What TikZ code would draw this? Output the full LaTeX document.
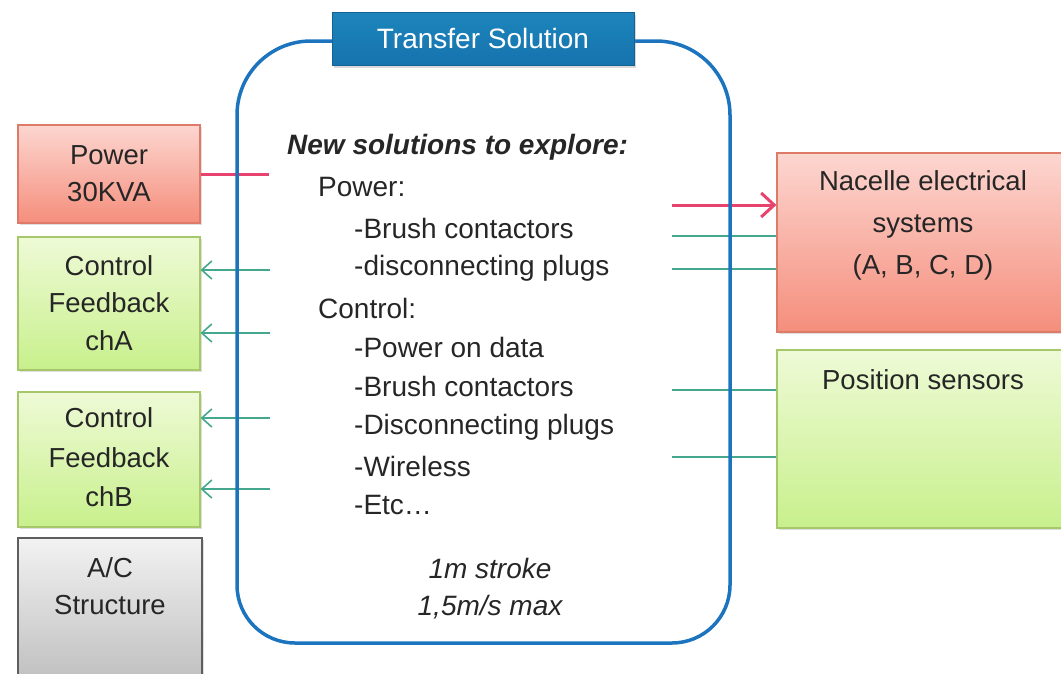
\documentclass[tikz,border=0pt]{standalone}
\usepackage{fontspec}
\setmainfont{Liberation Sans}
\usetikzlibrary{arrows.meta,shadows}

\definecolor{txtgray}{HTML}{262626}
\definecolor{redtop}{HTML}{FCD6D0}
\definecolor{redbot}{HTML}{F58E7C}
\definecolor{redline}{HTML}{DE7A68}
\definecolor{grntop}{HTML}{EEFAD6}
\definecolor{grnbot}{HTML}{C8F08C}
\definecolor{grnline}{HTML}{A6C86A}
\definecolor{gratop}{HTML}{F2F2F2}
\definecolor{grabot}{HTML}{BDBDBD}
\definecolor{graline}{HTML}{5E5E5E}
\definecolor{frame}{HTML}{1C74BE}
\definecolor{headtop}{HTML}{1D85BC}
\definecolor{headbot}{HTML}{1673AE}
\definecolor{pwrline}{HTML}{E8436E}
\definecolor{ctlline}{HTML}{45A88E}

\tikzset{
  px/.style={x=1pt,y=-1pt},
  boxbase/.style={rectangle,line width=1.2pt,inner sep=0pt,
    drop shadow={opacity=0.25,shadow xshift=1.5pt,shadow yshift=-2pt}},
  redbox/.style={boxbase,draw=redline,top color=redtop,bottom color=redbot},
  grnbox/.style={boxbase,draw=grnline,top color=grntop,bottom color=grnbot},
  grabox/.style={boxbase,draw=graline,top color=gratop,bottom color=grabot},
  boxtxt/.style={text=txtgray,align=center,inner sep=0pt,
    font=\fontsize{27.5}{37.5}\selectfont},
  body/.style={text=black!85,anchor=west,inner sep=0pt,
    font=\fontsize{28}{32}\selectfont},
  pwr/.style={draw=pwrline,line width=3pt},
  ctl/.style={draw=ctlline,line width=1.6pt},
  ctlarrow/.style={ctl,-{Straight Barb[length=10pt,width=18pt,line width=1.6pt]}},
  pwrarrow/.style={pwr,-{Straight Barb[length=13pt,width=24pt,line width=3pt]}},
  frameline/.style={draw=frame,line width=3.5pt},
}

\begin{document}
\begin{tikzpicture}[px]
\useasboundingbox (0,0) rectangle (1061,673);

% left column
\node[redbox,minimum width=182pt,minimum height=98pt] (power) at (109,174) {};
\node[boxtxt] (powertxt) at (109,173.5) {Power\\30KVA};

\node[grnbox,minimum width=182pt,minimum height=133pt] (chA) at (109,303.5) {};
\node[boxtxt] (chAtxt) at (109,303) {Control\\Feedback\\chA};

\node[grnbox,minimum width=182pt,minimum height=135pt] (chB) at (109,459.5) {};
\node[boxtxt,font=\fontsize{27.5}{39.5}\selectfont] (chBtxt) at (109,457.5) {Control\\Feedback\\chB};

\node[grabox,minimum width=184pt,minimum height=150pt] (ac) at (110,613) {};
\node[boxtxt] (actxt) at (110,586) {A/C\\Structure};

% right column
\node[redbox,minimum width=292pt,minimum height=179pt] (nacelle) at (923,242.5) {};
\node[boxtxt,font=\fontsize{27.5}{42}\selectfont] (nacelletxt) at (923,225)
  {Nacelle electrical\\systems\\(A, B, C, D)};

\node[grnbox,minimum width=292pt,minimum height=178pt] (sensors) at (923,439) {};
\node[boxtxt] (sensorstxt) at (923,380) {Position sensors};

% connectors
\coordinate (pwA) at (269,174);
\draw[pwr] (power.east) -- (pwA);
\coordinate (pwB) at (672,205);
\draw[pwrarrow] (pwB) -- (pwB -| nacelle.west);

\coordinate (nA) at (672,236);
\coordinate (nB) at (672,269);
\draw[ctl] (nA) -- (nA -| nacelle.west);
\draw[ctl] (nB) -- (nB -| nacelle.west);
\coordinate (sA) at (672,390);
\coordinate (sB) at (672,457);
\draw[ctl] (sA) -- (sA -| sensors.west);
\draw[ctl] (sB) -- (sB -| sensors.west);

\coordinate (fA1) at (270,270);
\coordinate (fA2) at (270,333);
\coordinate (fB1) at (270,418);
\coordinate (fB2) at (270,489);
\draw[ctlarrow] (fA1) -- (fA1 -| chA.east);
\draw[ctlarrow] (fA2) -- (fA2 -| chA.east);
\draw[ctlarrow] (fB1) -- (fB1 -| chB.east);
\draw[ctlarrow] (fB2) -- (fB2 -| chB.east);

% transfer solution frame: wider curves on top, tighter at the bottom
\draw[frameline] (483,41) [rounded corners=74pt] -- (730,41) -- (730,340)
  [rounded corners=58pt] -- (730,643) -- (237,643) -- (237,340)
  [rounded corners=74pt] -- (237,41) -- cycle;
\node[rectangle,draw=headbot!85!black,line width=0.8pt,
  top color=headtop,bottom color=headbot,
  minimum width=302pt,minimum height=53pt,inner sep=0pt,
  drop shadow={opacity=0.3,shadow xshift=1.5pt,shadow yshift=-2.5pt},
  text=white,font=\fontsize{28}{30}\selectfont] (head) at (483,38.5) {Transfer Solution};

% frame contents
\node[body,font=\fontsize{28}{32}\bfseries\itshape\selectfont] (intro) at (287,147) {New solutions to explore:};
\node[body] (l1) at (318,187) {Power:};
\node[body] (l2) at (354,228) {-Brush contactors};
\node[body] (l3) at (354,268) {-disconnecting plugs};
\node[body] (l4) at (318,308) {Control:};
\node[body] (l5) at (354,347) {-Power on data};
\node[body] (l6) at (354,386) {-Brush contactors};
\node[body] (l7) at (354,427) {-Disconnecting plugs};
\node[body] (l8) at (354,466) {-Wireless};
\node[body] (l9) at (354,505) {-Etc\ldots};
\node[body,anchor=center,font=\fontsize{28}{32}\itshape\selectfont] (s1) at (490,568) {1m stroke};
\node[body,anchor=center,font=\fontsize{28}{32}\itshape\selectfont] (s2) at (490,607) {1,5m/s max};
\end{tikzpicture}
\end{document}
